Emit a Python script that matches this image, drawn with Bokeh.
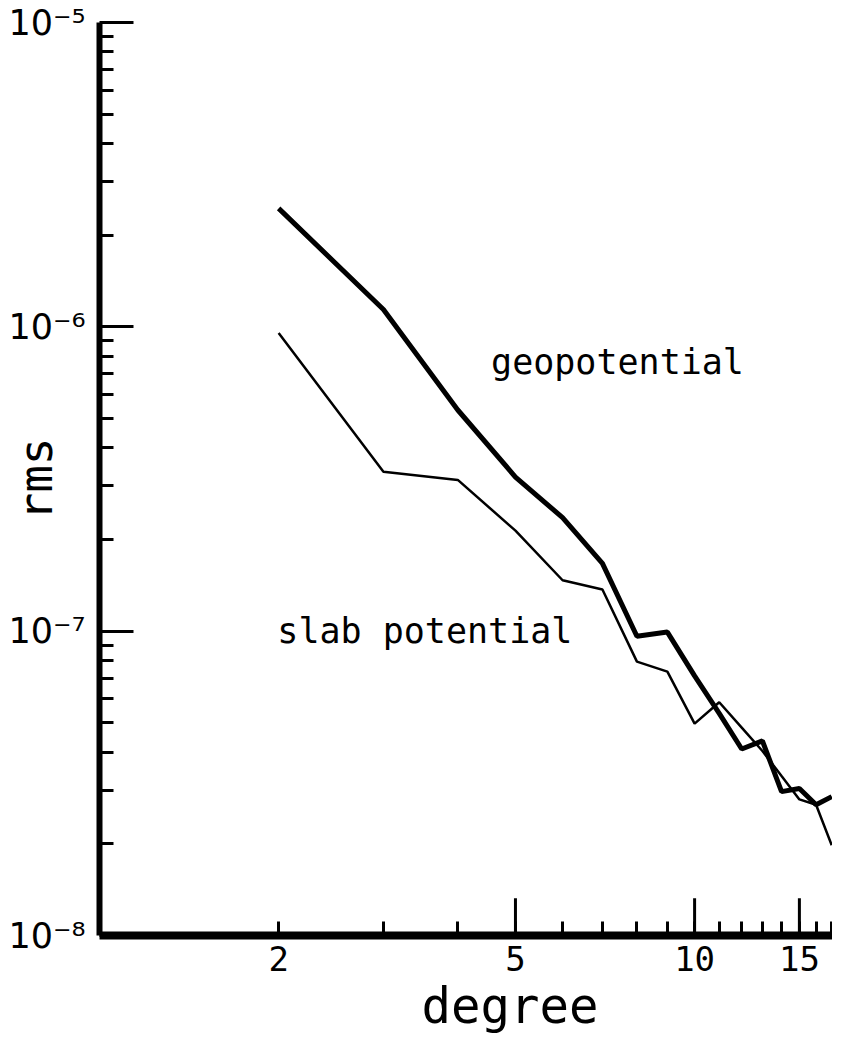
import math
from bokeh.plotting import figure
from bokeh.models import FixedTicker, CustomJSTickFormatter, Label, Range1d, Title
from bokeh.embed import file_html
from bokeh.resources import INLINE

# ---- data ----
degree = list(range(2, 18))
geopotential = [2.45e-6, 1.14e-6, 5.33e-7, 3.21e-7, 2.36e-7, 1.67e-7, 9.62e-8, 9.93e-8,
                7.13e-8, 5.37e-8, 4.10e-8, 4.36e-8, 2.97e-8, 3.04e-8, 2.69e-8, 2.86e-8]
slab_potential = [9.55e-7, 3.34e-7, 3.14e-7, 2.14e-7, 1.47e-7, 1.37e-7, 7.94e-8, 7.36e-8,
                  4.97e-8, 5.84e-8, 4.82e-8, 4.04e-8, 3.34e-8, 2.80e-8, 2.69e-8, 1.98e-8]
x_labelled_ticks = [2, 5, 10, 15]
x_long_ticks = [5, 10, 15]
x_minor_ticks = [3, 4, 6, 7, 8, 9, 11, 12, 13, 14, 16, 17]
y_decades = [1e-8, 1e-7, 1e-6, 1e-5]
y_minor_ticks = [m * 10.0 ** e for e in (-8, -7, -6) for m in range(2, 10)]

FONT = "DejaVu Sans Mono"
Y0, Y1 = 1e-8, 1e-5

p = figure(width=832, height=1036, x_axis_type="log", y_axis_type="log",
           x_range=Range1d(1, 17.05), y_range=Range1d(Y0, Y1),
           output_backend="svg", toolbar_location=None,
           min_border_left=99, min_border_right=0, min_border_top=22, min_border_bottom=100)
p.outline_line_color = None
p.xgrid.visible = False
p.ygrid.visible = False
p.background_fill_color = "white"

# lines
p.line(degree, geopotential, line_color="black", line_width=5)
p.line(degree, slab_potential, line_color="black", line_width=2.5)

# long inward ticks at 5, 10, 15 (the axis draws the short ones)
long_tick_top = Y0 * 10 ** (37 / 301.7)
p.segment(x0=x_long_ticks, y0=[Y0] * len(x_long_ticks),
          x1=x_long_ticks, y1=[long_tick_top] * len(x_long_ticks),
          line_color="black", line_width=3)

# x axis
xa = p.xaxis[0]
xa.ticker = FixedTicker(ticks=x_labelled_ticks, minor_ticks=x_minor_ticks)
xa.axis_line_width = 8
xa.axis_line_color = "black"
xa.major_tick_in = 14
xa.major_tick_out = 0
xa.minor_tick_in = 14
xa.minor_tick_out = 0
xa.major_tick_line_width = 3
xa.minor_tick_line_width = 3
xa.major_tick_line_color = "black"
xa.minor_tick_line_color = "black"
xa.major_label_text_font = FONT
xa.major_label_text_font_size = "34px"
xa.major_label_text_color = "black"
xa.major_label_standoff = 10

# y axis
ya = p.yaxis[0]
ya.ticker = FixedTicker(ticks=y_decades, minor_ticks=y_minor_ticks)
ya.formatter = CustomJSTickFormatter(code="""
const e = Math.round(Math.log10(tick));
const m = {'-':'\u207b','0':'\u2070','1':'\u00b9','2':'\u00b2','3':'\u00b3','4':'\u2074',
           '5':'\u2075','6':'\u2076','7':'\u2077','8':'\u2078','9':'\u2079'};
return '10' + String(e).split('').map(c => m[c]).join('');
""")
ya.axis_line_width = 6
ya.axis_line_color = "black"
ya.major_tick_in = 34
ya.major_tick_out = 0
ya.minor_tick_in = 14
ya.minor_tick_out = 0
ya.major_tick_line_width = 3
ya.minor_tick_line_width = 3
ya.major_tick_line_color = "black"
ya.minor_tick_line_color = "black"
ya.major_label_text_font = "DejaVu Sans"
ya.major_label_text_font_size = "35px"
ya.major_label_text_color = "black"
ya.major_label_standoff = 14
ya.axis_label = "rms"
ya.axis_label_text_font = FONT
ya.axis_label_text_font_size = "46px"
ya.axis_label_text_font_style = "normal"
ya.axis_label_text_color = "black"
ya.axis_label_standoff = -58

# x axis title
p.add_layout(Title(text="degree", align="left", offset=322, standoff=4,
                   text_font=FONT, text_font_size="49px", text_font_style="normal",
                   text_color="black"), "below")

# annotations
p.add_layout(Label(x=4.55, y=7.69e-7, text="geopotential", text_align="left",
                   text_baseline="alphabetic", text_font=FONT, text_font_size="35px",
                   text_color="black"))
p.add_layout(Label(x=1.99, y=1.0e-7, text="slab potential", text_align="left",
                   text_baseline="alphabetic", text_font=FONT, text_font_size="35px",
                   text_color="black"))

open("out.html", "w").write(file_html(p, INLINE))
